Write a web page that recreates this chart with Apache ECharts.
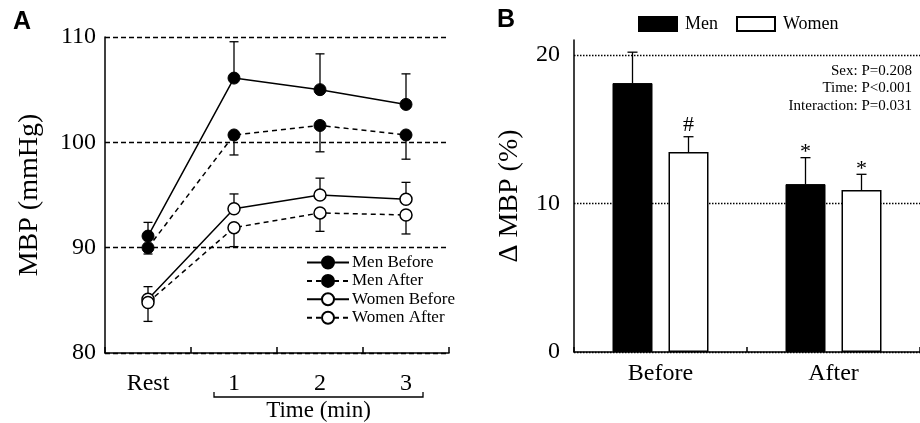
<!DOCTYPE html>
<html><head><meta charset="utf-8">
<script src="https://cdn.jsdelivr.net/npm/echarts@6/dist/echarts.min.js"></script>
<style>html,body{margin:0;padding:0;background:#fff}#c{width:920px;height:423px}</style>
</head><body><div id="c"></div>
<script>
// ---------- Panel A data ----------
const timeCategories = ['Rest', '1', '2', '3'];
const menBefore = [91.1, 106.1, 105.0, 103.6];
const menBeforeSem = [1.3, 3.45, 3.4, 2.9];
const menAfter = [90.0, 100.7, 101.6, 100.7];
const menAfterSem = [0.6, 1.9, 2.5, 2.3];
const womenBefore = [85.1, 93.7, 95.0, 94.6];
const womenBeforeSem = [1.2, 1.4, 1.6, 1.6];
const womenAfter = [84.8, 91.9, 93.3, 93.1];
const womenAfterSem = [1.8, 1.8, 1.75, 1.8];
const aTicks = [80, 90, 100, 110];

// ---------- Panel B data ----------
const conditions = ['Before', 'After'];
const menDelta = [18.1, 11.3];
const menDeltaSem = [2.08, 1.78];
const womenDelta = [13.46, 10.9];
const womenDeltaSem = [1.03, 1.06];
const menMarks = ['', '*'];
const womenMarks = ['#', '*'];
const bTicks = [0, 10, 20];
const statsLines = ['Sex: P=0.208', 'Time: P<0.001', 'Interaction: P=0.031'];

const FONT = 'Liberation Serif';
const BAR_W = 40, BAR_GAP = 16;

function errSeries(name, vals, sems, dir) {
  return {
    name: name, type: 'custom', xAxisIndex: 0, yAxisIndex: 0, z: 1,
    data: vals.map((v, i) => [i, v, sems[i]]),
    encode: { x: 0, y: 1 },
    renderItem: function (params, api) {
      const i = api.value(0), v = api.value(1), e = api.value(2);
      const p0 = api.coord([i, v]);
      const p1 = api.coord([i, v + dir * e]);
      const cap = 4.5;
      const st = { stroke: '#000', lineWidth: 1.3 };
      return { type: 'group', children: [
        { type: 'line', shape: { x1: p0[0], y1: p0[1], x2: p1[0], y2: p1[1] }, style: st },
        { type: 'line', shape: { x1: p1[0] - cap, y1: p1[1], x2: p1[0] + cap, y2: p1[1] }, style: st }
      ]};
    }
  };
}
function lineSeries(name, vals, filled, dashed) {
  return {
    name: name, type: 'line', xAxisIndex: 0, yAxisIndex: 0, z: 3,
    data: vals, symbol: 'circle', symbolSize: 12, showAllSymbol: true,
    itemStyle: filled ? { color: '#000', borderColor: '#000', borderWidth: 1 }
                      : { color: '#fff', borderColor: '#000', borderWidth: 1.5 },
    lineStyle: { color: '#000', width: 1.5, type: dashed ? [5, 4] : 'solid' },
    emphasis: { disabled: true }
  };
}
function barErrSeries(name, vals, sems, marks, side) {
  return {
    name: name, type: 'custom', xAxisIndex: 1, yAxisIndex: 1, z: 4,
    data: vals.map((v, i) => [i, v, sems[i]]),
    encode: { x: 0, y: 1 },
    renderItem: function (params, api) {
      const i = api.value(0), v = api.value(1), e = api.value(2);
      const mark = marks[i];
      const off = side * (BAR_W + BAR_GAP) / 2;
      const p0 = api.coord([i, v]);
      const p1 = api.coord([i, v + e]);
      const x = p0[0] + off;
      const cap = 5;
      const st = { stroke: '#000', lineWidth: 1.3 };
      const ch = [
        { type: 'line', shape: { x1: x, y1: p0[1], x2: x, y2: p1[1] }, style: st },
        { type: 'line', shape: { x1: x - cap, y1: p1[1], x2: x + cap, y2: p1[1] }, style: st }
      ];
      if (mark) {
        ch.push({ type: 'text', x: x, y: p1[1] - (mark === '#' ? 12 : 5),
          style: { text: mark, fill: '#000', font: '22px "' + FONT + '"', align: 'center', verticalAlign: 'middle' } });
      }
      return { type: 'group', children: ch };
    }
  };
}

const chart = echarts.init(document.getElementById('c'), null, { renderer: 'canvas' });
const axisLabelStyle = { color: '#000', fontFamily: FONT, fontSize: 24 };

chart.setOption({
  animation: false,
  backgroundColor: '#fff',
  grid: [
    { left: 105, top: 37, width: 344, height: 316 },
    { left: 574, top: 40, width: 346, height: 312 }
  ],
  legend: [
    {
      data: ['Men Before', 'Men After', 'Women Before', 'Women After'],
      orient: 'vertical', left: 306, top: 254, padding: 0,
      itemWidth: 42, itemHeight: 15, itemGap: 1.4,
      textStyle: { color: '#000', fontFamily: FONT, fontSize: 17, lineHeight: 15, padding: [0, 0, 0, -2] },
      selectedMode: false
    },
    {
      data: ['Men', 'Women'], icon: 'rect', padding: 0,
      left: 638, top: 15, itemWidth: 38, itemHeight: 14, itemGap: 18,
      textStyle: { color: '#000', fontFamily: FONT, fontSize: 18, padding: [0, 0, 0, 3] },
      selectedMode: false
    }
  ],
  xAxis: [
    {
      type: 'category', gridIndex: 0, data: timeCategories, boundaryGap: true,
      axisLine: { show: true, lineStyle: { color: '#000', width: 1.5 } },
      axisTick: { show: true, inside: true, length: 6, lineStyle: { color: '#000', width: 1.5 } },
      axisLabel: Object.assign({ margin: 19 }, axisLabelStyle),
      splitLine: { show: false }
    },
    {
      type: 'category', gridIndex: 1, data: conditions, boundaryGap: true,
      axisLine: { show: true, lineStyle: { color: '#000', width: 1.5 } },
      axisTick: { show: true, inside: true, length: 5, lineStyle: { color: '#000', width: 1.5 } },
      axisLabel: Object.assign({ margin: 10 }, axisLabelStyle),
      splitLine: { show: false }
    }
  ],
  yAxis: [
    {
      type: 'value', gridIndex: 0, min: aTicks[0], max: aTicks[aTicks.length - 1], interval: 10,
      name: 'MBP (mmHg)', nameLocation: 'middle', nameGap: 61, nameRotate: 90,
      nameTextStyle: { color: '#000', fontFamily: FONT, fontSize: 28 },
      axisLine: { show: true, lineStyle: { color: '#000', width: 1.5 } },
      axisTick: { show: false },
      axisLabel: Object.assign({ margin: 9 }, axisLabelStyle),
      splitLine: { show: true, lineStyle: { color: '#000', width: 1.4, type: [5, 3] } }
    },
    {
      type: 'value', gridIndex: 1, min: bTicks[0], max: 21, interval: 10,
      name: 'Δ MBP (%)', nameLocation: 'middle', nameGap: 50, nameRotate: 90,
      nameTextStyle: { color: '#000', fontFamily: FONT, fontSize: 28 },
      axisLine: { show: true, lineStyle: { color: '#000', width: 1.5 } },
      axisTick: { show: false },
      axisLabel: Object.assign({ margin: 14, showMaxLabel: false,
        formatter: v => (bTicks.indexOf(v) >= 0 ? String(v) : '') }, axisLabelStyle),
      splitLine: { show: true, showMaxLine: false, lineStyle: { color: '#000', width: 1.4, type: [1.5, 1.5] } }
    }
  ],
  series: [
    errSeries('menBeforeErr', menBefore, menBeforeSem, 1),
    errSeries('menAfterErr', menAfter, menAfterSem, -1),
    errSeries('womenBeforeErr', womenBefore, womenBeforeSem, 1),
    errSeries('womenAfterErr', womenAfter, womenAfterSem, -1),
    lineSeries('Men Before', menBefore, true, false),
    lineSeries('Men After', menAfter, true, true),
    lineSeries('Women Before', womenBefore, false, false),
    lineSeries('Women After', womenAfter, false, true),
    {
      name: 'Men', type: 'bar', xAxisIndex: 1, yAxisIndex: 1, data: menDelta,
      barWidth: BAR_W, barGap: (BAR_GAP / BAR_W * 100) + '%', z: 2,
      itemStyle: { color: '#000', borderColor: '#000', borderWidth: 1 },
      emphasis: { disabled: true }
    },
    {
      name: 'Women', type: 'bar', xAxisIndex: 1, yAxisIndex: 1, data: womenDelta,
      barWidth: BAR_W, barGap: (BAR_GAP / BAR_W * 100) + '%', z: 2,
      itemStyle: { color: '#fff', borderColor: '#000', borderWidth: 1.5 },
      emphasis: { disabled: true }
    },
    barErrSeries('menErr', menDelta, menDeltaSem, menMarks, -1),
    barErrSeries('womenErr', womenDelta, womenDeltaSem, womenMarks, 1)
  ]
});

// Annotations: panel letters, stats text, bracket under time points
const p1 = chart.convertToPixel({ xAxisIndex: 0, yAxisIndex: 0 }, [1, aTicks[0]]);
const p3 = chart.convertToPixel({ xAxisIndex: 0, yAxisIndex: 0 }, [3, aTicks[0]]);
const bx0 = p1[0] - 20, bx1 = p3[0] + 17, by = p1[1] + 44;
chart.setOption({
  graphic: [
    { type: 'text', left: 13, top: 10, style: { text: 'A', font: 'bold 25px "Liberation Sans"', fill: '#000' } },
    { type: 'text', left: 497, top: 8, style: { text: 'B', font: 'bold 25px "Liberation Sans"', fill: '#000' } },
    { type: 'text', x: 912, y: 62, style: { text: statsLines.join('\n'), font: '15px "' + FONT + '"',
      fill: '#000', align: 'right', lineHeight: 17.5 } },
    { type: 'polyline', shape: { points: [[bx0, by - 5], [bx0, by], [bx1, by], [bx1, by - 5]] },
      style: { stroke: '#000', lineWidth: 1.3, fill: null } },
    { type: 'text', x: (bx0 + bx1) / 2, y: by + 14, style: { text: 'Time (min)', font: '23px "' + FONT + '"',
      fill: '#000', align: 'center', verticalAlign: 'middle' } }
  ]
});
</script>
</body></html>
